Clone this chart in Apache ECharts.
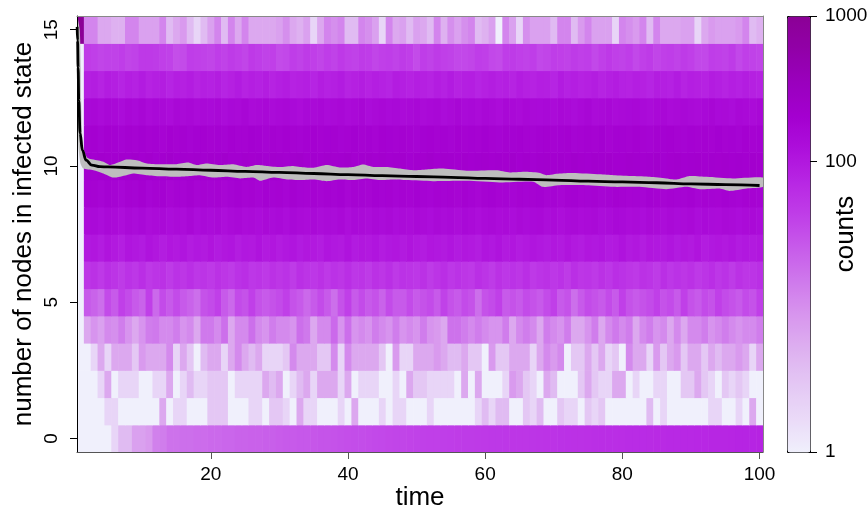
<!DOCTYPE html>
<html>
<head>
<meta charset="utf-8">
<script src="https://cdn.jsdelivr.net/npm/echarts@6/dist/echarts.min.js"></script>
<style>
html,body{margin:0;padding:0;background:#fff;}
#chart{width:868px;height:513px;}
</style>
</head>
<body>
<div id="chart"></div>
<script>
// ---------- data ----------
const times = Array.from({length: 100}, (_, i) => i + 1);   // time steps 1..100
const states = [0,1,2,3,4,5,6,7,8,9,10,11,12,13,14,15];

const counts_s0 = [1,1,1,1,1,2,4,4,7,7,
 8,13,14,17,17,18,18,19,19,20,
 20,21,21,22,22,23,23,24,24,25,
 26,26,27,27,28,29,29,30,31,32,
 33,33,34,35,36,37,38,38,39,40,
 41,42,42,43,44,45,46,46,47,48,
 49,49,50,51,52,52,53,54,55,55,
 56,57,58,58,59,60,61,61,62,63,
 64,64,65,66,67,67,68,69,70,70,
 71,72,73,73,74,75,76,76,77,78];
const counts_s1 = [1,1,1,1,2,2,1,1,1,1,
 1,1,6,1,2,2,1,1,1,3,
 3,3,1,1,1,2,2,1,3,3,
 2,1,6,2,2,1,1,1,2,1,
 6,1,1,1,2,1,2,2,1,1,
 1,2,1,1,1,1,1,1,2,4,
 2,4,4,1,1,3,2,4,1,1,
 3,2,2,1,3,2,3,1,1,1,
 1,1,1,4,1,2,1,1,1,1,
 1,1,2,2,1,1,2,1,6,1];
const counts_s2 = [1,1,1,2,6,1,2,2,2,1,
 1,2,2,6,1,2,4,2,2,3,
 3,3,1,2,2,2,2,6,4,6,
 1,2,4,6,2,6,6,6,2,6,
 1,2,2,2,1,1,2,1,6,3,
 3,2,2,2,2,1,6,1,6,1,
 1,1,2,8,6,3,2,1,6,4,
 1,1,1,3,6,3,2,2,6,6,
 1,2,1,1,2,2,1,1,3,3,
 6,3,2,1,3,2,3,2,1,1];
const counts_s3 = [1,1,2,6,2,6,6,6,3,8,
 6,6,6,11,2,6,3,1,4,6,
 6,2,6,11,6,4,6,2,2,2,
 3,11,6,6,6,3,3,11,2,11,
 6,6,6,6,3,1,8,2,2,6,
 6,6,8,6,4,4,6,3,3,1,
 8,3,3,6,6,6,2,6,11,8,
 11,1,3,3,6,3,6,2,3,1,
 11,6,6,2,8,3,6,8,3,6,
 6,3,6,4,6,6,8,6,2,6];
const counts_s4 = [1,6,9,7,11,10,14,9,6,9,
 14,15,11,11,14,9,11,6,15,15,
 11,18,6,11,11,18,11,9,14,11,
 11,9,18,15,6,11,11,20,9,18,
 9,11,9,14,11,9,14,9,11,9,
 14,9,8,6,17,17,14,11,14,11,
 9,9,14,6,11,14,11,6,14,11,
 9,14,6,6,9,14,6,11,15,11,
 14,6,11,14,9,11,6,11,6,11,
 11,14,9,11,14,11,9,11,11,14];
const counts_s5 = [1,26,22,18,34,26,42,34,26,22,
 42,20,34,26,34,26,22,18,30,34,
 42,26,20,34,30,42,30,26,30,34,
 42,30,26,20,26,34,26,18,30,42,
 26,34,26,30,22,34,26,26,34,26,
 30,34,26,40,30,26,34,30,18,30,
 34,42,26,30,26,34,30,26,34,42,
 26,30,18,26,34,30,26,34,26,42,
 30,26,30,34,42,30,34,26,42,30,
 26,34,30,42,34,30,26,34,30,42];
const counts_s6 = [1,52,58,48,60,54,46,56,50,62,
 48,54,58,46,56,52,60,50,54,48,
 58,52,46,56,62,50,54,48,58,52,
 56,46,60,54,50,58,48,56,52,62,
 50,54,46,58,52,60,48,56,54,50,
 58,46,54,62,50,56,52,48,60,54,
 46,58,50,56,52,62,48,54,58,50,
 56,46,60,52,54,48,58,50,62,56,
 52,48,58,54,46,60,50,56,52,58,
 48,54,62,50,56,46,58,52,54,60];
const counts_s7 = [1,96,104,92,110,98,88,106,100,94,
 112,102,90,104,98,108,92,100,96,110,
 94,102,106,90,100,98,112,96,104,92,
 100,108,94,102,98,90,106,100,96,112,
 94,102,98,108,92,100,104,96,110,98,
 92,104,100,96,108,94,102,98,90,106,
 100,112,96,104,92,98,108,100,94,102,
 96,110,98,92,104,100,106,94,98,112,
 96,102,90,104,100,98,108,94,102,96,
 110,92,100,104,98,106,94,100,96,102];
const counts_s8 = [1,136,144,130,150,140,128,146,138,152,
 134,142,148,130,140,136,154,132,144,138,
 146,128,140,150,136,142,132,148,138,144,
 130,152,140,136,146,134,142,138,150,128,
 144,140,134,148,138,146,132,142,136,150,
 140,130,146,138,144,134,152,140,128,142,
 148,136,140,132,146,138,144,150,134,140,
 128,142,148,136,140,146,132,138,152,144,
 136,140,130,148,142,134,146,138,140,150,
 132,144,138,136,148,140,130,142,146,138];
const counts_s9 = [1,176,186,170,190,180,166,184,178,194,
 172,182,188,168,180,176,192,174,186,178,
 184,168,180,190,176,182,172,188,178,184,
 170,192,180,176,186,174,182,178,190,168,
 184,180,174,188,178,186,172,182,176,190,
 180,170,186,178,184,174,192,180,168,182,
 188,176,180,172,186,178,184,190,174,180,
 168,182,188,176,180,186,172,178,192,184,
 176,180,170,188,182,174,186,178,180,190,
 172,184,178,176,188,180,170,182,186,178];
const counts_s10 = [1,212,204,218,208,200,216,210,222,206,
 214,198,210,220,204,212,208,218,202,214,
 210,224,206,200,216,208,212,198,218,210,
 204,214,220,206,210,202,216,208,212,222,
 200,210,214,206,218,204,210,216,198,212,
 208,220,204,214,210,200,216,206,212,218,
 202,210,208,222,204,214,198,210,216,206,
 212,204,220,208,200,214,210,218,206,202,
 216,210,204,212,220,198,208,214,206,210,
 218,202,212,208,216,204,210,200,214,208];
const counts_s11 = [1,186,194,180,196,188,178,192,184,198,
 182,190,176,194,186,192,180,188,196,184,
 190,178,194,186,182,198,188,180,192,186,
 194,184,178,190,196,182,188,192,180,186,
 198,184,190,176,194,188,182,192,186,180,
 190,196,184,188,178,194,186,190,182,198,
 186,180,192,188,194,184,178,190,196,182,
 188,194,180,186,192,184,198,176,190,188,
 182,194,186,180,192,188,196,184,178,190,
 186,192,182,198,184,188,180,194,186,190];
const counts_s12 = [1,146,154,140,158,150,138,156,144,160,
 142,152,148,136,154,146,158,140,150,144,
 156,138,152,148,160,142,146,154,140,150,
 158,144,136,152,148,156,140,146,154,142,
 150,160,138,148,156,144,152,140,146,158,
 142,150,154,138,148,160,144,152,140,156,
 146,136,154,150,142,158,148,144,152,140,
 156,146,138,150,160,142,148,154,140,146,
 152,158,144,138,150,156,142,148,154,146,
 140,152,160,144,148,138,156,150,142,154];
const counts_s13 = [1,84,90,78,92,86,76,88,82,94,
 80,86,90,76,88,84,92,78,86,82,
 90,76,84,94,80,88,82,90,78,86,
 92,80,84,88,76,90,82,86,94,78,
 84,90,80,88,82,76,92,86,80,88,
 84,78,90,82,94,80,86,88,76,84,
 90,82,86,78,92,84,80,88,86,76,
 94,82,88,80,84,90,78,86,92,82,
 80,88,84,76,90,86,82,94,78,88,
 84,80,92,86,78,88,82,90,84,80];
const counts_s14 = [1,45,42,38,40,40,44,38,40,48,
 48,46,42,40,32,34,44,42,40,38,
 44,40,46,42,38,48,44,40,42,34,
 36,44,40,46,42,38,44,40,48,42,
 40,46,44,38,42,44,40,46,42,34,
 44,40,46,42,40,36,36,38,44,42,
 36,34,44,46,42,40,44,36,38,44,
 42,40,46,42,44,36,42,48,42,40,
 44,36,42,46,38,42,44,40,46,42,
 36,36,44,42,40,46,36,42,40,38];
const counts_s15 = [1000,12,12,6,6,5,5,12,12,7,
 7,7,12,4,6,8,4,2,4,7,
 12,4,12,6,12,6,6,6,6,7,
 10,6,5,7,2,6,12,10,12,4,
 4,12,10,7,2,12,6,7,4,7,
 6,4,12,5,10,7,10,12,4,5,
 7,1,12,7,2,10,7,7,7,4,
 12,12,4,8,12,7,7,7,2,12,
 10,8,12,4,12,6,6,6,7,7,
 2,6,8,7,7,7,8,12,4,5];

// mean number of infected nodes (black line), [time, value]
const meanLine = [[0.52,15.1],[0.58,14.6],[0.66,13.6],[0.76,12.4],[0.95,11.2],[1.28,10.58],
 [1.82,10.21],[2.65,10.03],[3.86,9.97],[5,9.96],[10,9.92],[15,9.88],[20,9.84],[25,9.80],
 [30,9.76],[35,9.72],[40,9.68],[45,9.64],[50,9.61],[55,9.58],[60,9.54],[65,9.51],[70,9.48],
 [75,9.44],[80,9.41],[85,9.38],[90,9.34],[95,9.31],[100,9.28]];

// grey envelope, [time, value]
const bandUpper = [[0.5,15.5],[0.9,15.0],[1.05,13.6],[1.1,12.4],[1.25,11.2],[1.5,10.6],[2,10.3],
 [2.9,10.23],[4.35,10.15],[5.3,10.03],[6.8,10.15],[7.7,10.23],[9.2,10.21],[10.7,10.09],[12.6,10.06],
 [15,10.06],[16.7,10.12],[17.9,10.03],[19.4,10.09],[21.3,10.03],[23.3,10.06],[25.2,9.96],[26.7,10.03],
 [28.1,10.0],[30.1,9.96],[32,10.0],[33,9.96],[35,9.93],[36.9,10.03],[38.8,9.94],[40.8,9.96],[42.2,10.05],
 [43.7,9.96],[45.6,9.96],[47.6,9.90],[49.5,9.84],[51.5,9.87],[53.9,9.90],[57.3,9.82],[61.6,9.84],
 [63.6,9.76],[66,9.78],[68,9.74],[68.9,9.66],[70.8,9.72],[72.8,9.74],[76.7,9.69],[78.7,9.66],
 [81.6,9.63],[84,9.60],[86.4,9.54],[87.9,9.50],[89.8,9.63],[92.3,9.60],[96.1,9.54],[100.5,9.57]];
const bandLower = [[0.5,12.8],[0.6,11.5],[0.75,10.6],[1.0,10.1],[1.43,9.9],[2.9,9.84],[4.35,9.72],
 [5.8,9.57],[7.7,9.66],[8.7,9.72],[10.65,9.66],[12.6,9.62],[15,9.60],[16.5,9.62],[18.4,9.66],
 [20.4,9.57],[22.3,9.60],[24.3,9.54],[26.2,9.57],[27.2,9.45],[29.1,9.57],[31.1,9.50],[33,9.48],
 [35,9.50],[36.9,9.44],[38.8,9.50],[40.8,9.48],[42.7,9.54],[44.6,9.48],[46.6,9.50],[48.5,9.48],
 [52.4,9.44],[57.3,9.45],[62.1,9.39],[67,9.42],[68.4,9.23],[70.8,9.29],[74.7,9.29],[78.7,9.23],
 [82.5,9.23],[86.4,9.14],[89.3,9.23],[91.3,9.14],[94.2,9.17],[95.6,9.08],[98.1,9.17],[100.5,9.23]];

const xTicks = [20, 40, 60, 80, 100];
const yTicks = [0, 5, 10, 15];
const colorTicks = [1, 100, 1000];

// ---------- chart ----------
const FONT = '"Liberation Sans", Arial, Helvetica, sans-serif';
const palette = ['#F0F0FC','#EADAF8','#E4C8F4','#DEB2F0','#D898EE','#D07CEC','#C85EEA',
                 '#C040E8','#B828E4','#AE10DC','#A400D0','#9A00BE','#9200A8','#8B0096'];

const rows = [counts_s0,counts_s1,counts_s2,counts_s3,counts_s4,counts_s5,counts_s6,counts_s7,
              counts_s8,counts_s9,counts_s10,counts_s11,counts_s12,counts_s13,counts_s14,counts_s15];
const heatData = [];
rows.forEach((row, si) => {
  row.forEach((c, ti) => {
    heatData.push([times[ti], states[si], c, Math.log10(Math.max(c, 1))]);
  });
});

const chart = echarts.init(document.getElementById('chart'), null, {renderer: 'canvas'});

const option = {
  animation: false,
  backgroundColor: '#ffffff',
  grid: [
    {left: 77, top: 16, width: 686, height: 436, show: false, containLabel: false, outerBoundsMode: 'none'},
    {left: 787, top: 16, width: 23, height: 436, show: false, containLabel: false, outerBoundsMode: 'none'}
  ],
  xAxis: [
    {
      type: 'value', gridIndex: 0, min: 0.5, max: 100.5, z: 10,
      name: 'time', nameLocation: 'middle', nameGap: 33, nameMoveOverlap: false,
      nameTextStyle: {fontSize: 26, color: '#000', fontFamily: FONT},
      axisLine: {show: true, onZero: false, lineStyle: {color: '#555', width: 1}},
      axisTick: {show: true, length: 7, customValues: xTicks, lineStyle: {color: '#555'}},
      axisLabel: {customValues: xTicks, fontSize: 19, color: '#000', margin: 13, fontFamily: FONT},
      splitLine: {show: false}
    },
    {type: 'value', gridIndex: 1, min: 0, max: 1, show: false},
    {
      type: 'value', gridIndex: 0, min: 0.5, max: 100.5, position: 'top', z: 10,
      axisLine: {show: true, onZero: false, lineStyle: {color: '#888', width: 1}},
      axisTick: {show: false}, axisLabel: {show: false}, splitLine: {show: false}
    }
  ],
  yAxis: [
    {
      type: 'value', gridIndex: 0, min: -0.5, max: 15.5, z: 10,
      name: 'number of nodes in infected state', nameLocation: 'middle', nameGap: 40, nameRotate: 90,
      nameMoveOverlap: false,
      nameTextStyle: {fontSize: 26, color: '#000', fontFamily: FONT},
      axisLine: {show: true, onZero: false, lineStyle: {color: '#000', width: 1}},
      axisTick: {show: true, length: 7, customValues: yTicks, lineStyle: {color: '#000'}},
      axisLabel: {customValues: yTicks, rotate: 90, fontSize: 19, color: '#000', margin: 16, fontFamily: FONT},
      splitLine: {show: false}
    },
    {
      type: 'value', gridIndex: 1, min: 0, max: 3, position: 'right', z: 10,
      name: 'counts', nameLocation: 'middle', nameGap: 23, nameRotate: 90, nameMoveOverlap: false,
      nameTextStyle: {fontSize: 26, color: '#000', fontFamily: FONT},
      axisLine: {show: false, onZero: false},
      axisTick: {show: true, length: 7, customValues: colorTicks.map(v => Math.log10(v)), lineStyle: {color: '#000'}},
      axisLabel: {customValues: colorTicks.map(v => Math.log10(v)), fontSize: 19, color: '#000', margin: 15,
                  fontFamily: FONT, formatter: v => String(Math.round(Math.pow(10, v)))},
      splitLine: {show: false}
    },
    {
      type: 'value', gridIndex: 0, min: -0.5, max: 15.5, position: 'right', z: 10,
      axisLine: {show: true, onZero: false, lineStyle: {color: '#888', width: 1}},
      axisTick: {show: false}, axisLabel: {show: false}, splitLine: {show: false}
    }
  ],
  visualMap: {
    type: 'continuous', min: 0, max: 3, dimension: 3, seriesIndex: 0,
    inRange: {color: palette},
    show: true, calculable: false, hoverLink: false, realtime: false,
    left: 787, top: 16, itemWidth: 23, itemHeight: 436, padding: 0,
    text: null, showLabel: false,
    borderColor: '#000', borderWidth: 1
  },
  series: [
    {
      type: 'custom', xAxisIndex: 0, yAxisIndex: 0, clip: true,
      dimensions: ['time', 'state', 'count', 'logcount'],
      encode: {x: 0, y: 1},
      data: heatData,
      renderItem: function (params, api) {
        const t = api.value(0), s = api.value(1);
        const p0 = api.coord([t - 0.5, s + 0.5]);
        const p1 = api.coord([t + 0.5, s - 0.5]);
        return {
          type: 'rect',
          shape: {x: p0[0], y: p0[1], width: p1[0] - p0[0] + 0.6, height: p1[1] - p0[1] + 0.6},
          style: {fill: api.visual('color')}
        };
      },
      z: 1
    },
    {
      type: 'custom', xAxisIndex: 0, yAxisIndex: 0, clip: true,
      data: [[50, 10]],
      renderItem: function (params, api) {
        const pts = bandUpper.map(p => api.coord(p))
          .concat(bandLower.slice().reverse().map(p => api.coord(p)));
        return {type: 'polygon', shape: {points: pts, smooth: 0.2}, style: {fill: '#BEBEBE'}};
      },
      z: 3
    },
    {
      type: 'line', xAxisIndex: 0, yAxisIndex: 0,
      data: meanLine, showSymbol: false, smooth: 0.4, smoothMonotone: 'x',
      lineStyle: {color: '#000', width: 2.8}, clip: true, z: 5
    }
  ]
};
chart.setOption(option);
</script>
</body>
</html>
